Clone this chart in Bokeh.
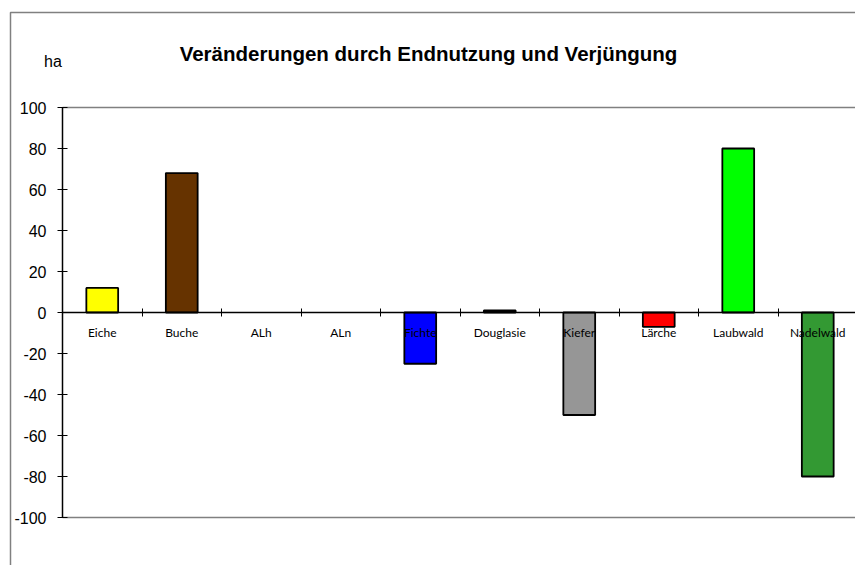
from bokeh.plotting import figure
from bokeh.models import ColumnDataSource, Range1d, FixedTicker, Label, BoxAnnotation
from bokeh.embed import file_html
from bokeh.resources import INLINE

categories = ["Eiche", "Buche", "ALh", "ALn", "Fichte", "Douglasie", "Kiefer", "Lärche", "Laubwald", "Nadelwald"]
values = [12, 68, 0, 0, -25, 1, -50, -7, 80, -80]
colors = ["#FFFF00", "#663300", "#FFFFFF", "#FFFFFF", "#0000FF", "#000000",
          "#969696", "#FF0000", "#00FF00", "#339933"]
y_ticks = [-100, -80, -60, -40, -20, 0, 20, 40, 60, 80, 100]
title_text = "Veränderungen durch Endnutzung und Verjüngung"
unit_text = "ha"

n = len(categories)
centers = [i + 0.5 for i in range(n)]
boundaries = [i for i in range(1, n)]

bx, bt, bc = [], [], []
for c, v, col in zip(centers, values, colors):
    if v != 0:
        bx.append(c); bt.append(v); bc.append(col)
src = ColumnDataSource(dict(x=bx, top=bt, color=bc))

# frame covers the whole canvas; axes are placed at fixed locations inside it
W, H = 855, 565
x0_px, y0_px = 62.0, 312.0      # where data (0,0) sits
sx, sy = 79.5, 2.05             # pixels per unit
x_range = Range1d(-x0_px / sx, (W - x0_px) / sx)
y_range = Range1d((y0_px - H) / sy, y0_px / sy)

p = figure(width=W, height=H, x_range=x_range, y_range=y_range,
           output_backend="svg", toolbar_location=None,
           min_border_left=0, min_border_right=0, min_border_top=0, min_border_bottom=0)
p.outline_line_color = None
p.background_fill_color = "white"
p.border_fill_color = "white"
p.xgrid.visible = False
p.ygrid.visible = False

# plot-area top / bottom lines
p.segment(x0=[0, 0], x1=[n, n], y0=[y_ticks[0], y_ticks[-1]], y1=[y_ticks[0], y_ticks[-1]],
          line_color="#808080", line_width=1.5)

p.vbar(x="x", top="top", bottom=0, width=0.4, fill_color="color",
       line_color="black", line_width=1.8, source=src)

ya = p.yaxis[0]
ya.fixed_location = 0
ya.bounds = (y_ticks[0], y_ticks[-1])
ya.ticker = FixedTicker(ticks=y_ticks)
ya.major_label_overrides = {t: str(t) for t in y_ticks}
ya.major_label_text_font = "Liberation Sans"
ya.major_label_text_font_size = "16px"
ya.major_label_text_color = "black"
ya.axis_line_color = "black"
ya.axis_line_width = 1.5
ya.major_tick_line_color = "black"
ya.major_tick_in = 5
ya.major_tick_out = 5
ya.minor_tick_line_color = None
ya.major_label_standoff = 11

xa = p.xaxis[0]
xa.fixed_location = 0
xa.bounds = (0, n)
xa.ticker = FixedTicker(ticks=centers, minor_ticks=boundaries)
xa.major_label_overrides = {c: nm for c, nm in zip(centers, categories)}
xa.major_tick_line_color = None
xa.major_tick_in = 0
xa.major_tick_out = 0
xa.minor_tick_line_color = "black"
xa.minor_tick_in = 4
xa.minor_tick_out = 4
xa.axis_line_color = "black"
xa.axis_line_width = 1.3
xa.major_label_text_font = "Lato"
xa.major_label_text_font_size = "12px"
xa.major_label_text_color = "black"
xa.major_label_standoff = 8

p.add_layout(Label(x=(428 - x0_px) / sx, y=(y0_px - 52.5) / sy, text=title_text,
                   text_font="Liberation Sans", text_font_style="bold", text_font_size="20.5px",
                   text_align="center", text_baseline="alphabetic", text_color="black"))
p.add_layout(Label(x=(52.5 - x0_px) / sx, y=(y0_px - 60.5) / sy, text=unit_text,
                   text_font="Liberation Sans", text_font_size="16px", text_align="center",
                   text_baseline="alphabetic", text_color="black"))

# outer chart border (top and left edges visible)
p.add_layout(BoxAnnotation(left=(10 - x0_px) / sx, right=(W + 50 - x0_px) / sx,
                           top=(y0_px - 12) / sy, bottom=(y0_px - H - 50) / sy,
                           fill_color=None, line_color="#808080", line_alpha=1.0,
                           line_width=1.5))

open("out.html", "w").write(file_html(p, INLINE))
